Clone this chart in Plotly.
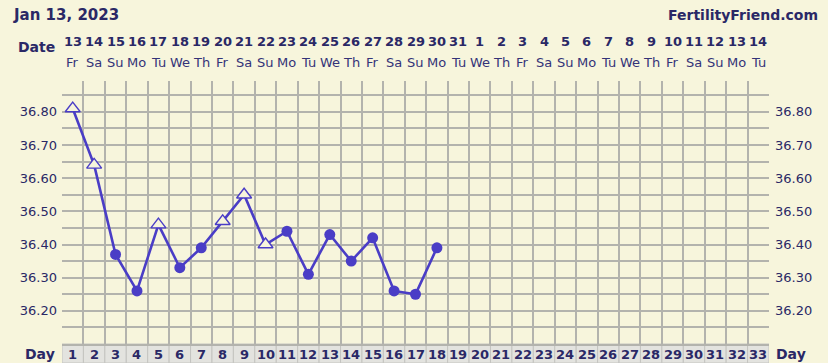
import plotly.graph_objects as go

# ---------------- data ----------------
title_text = "Jan 13, 2023"
site_text = "FertilityFriend.com"

day_numbers = list(range(1, 34))
date_numbers = ["13", "14", "15", "16", "17", "18", "19", "20", "21", "22", "23",
                "24", "25", "26", "27", "28", "29", "30", "31", "1", "2", "3",
                "4", "5", "6", "7", "8", "9", "10", "11", "12", "13", "14"]
weekdays = ["Fr", "Sa", "Su", "Mo", "Tu", "We", "Th", "Fr", "Sa", "Su", "Mo",
            "Tu", "We", "Th", "Fr", "Sa", "Su", "Mo", "Tu", "We", "Th", "Fr",
            "Sa", "Su", "Mo", "Tu", "We", "Th", "Fr", "Sa", "Su", "Mo", "Tu"]

temp_days = [1, 2, 3, 4, 5, 6, 7, 8, 9, 10, 11, 12, 13, 14, 15, 16, 17, 18]
temps = [36.81, 36.64, 36.37, 36.26, 36.46, 36.33, 36.39, 36.47, 36.55, 36.40,
         36.44, 36.31, 36.43, 36.35, 36.42, 36.26, 36.25, 36.39]
marker_kind = ["tri", "tri", "dot", "dot", "tri", "dot", "dot", "tri", "tri", "tri",
               "dot", "dot", "dot", "dot", "dot", "dot", "dot", "dot"]

# horizontal grid every 0.05, labels every 0.10
temp_grid_values = [36.15, 36.20, 36.25, 36.30, 36.35, 36.40, 36.45, 36.50,
                    36.55, 36.60, 36.65, 36.70, 36.75, 36.80, 36.85]
temp_grid_labels = ["", "36.20", "", "36.30", "", "36.40", "", "36.50",
                    "", "36.60", "", "36.70", "", "36.80", ""]

# vertical grid at the day-column borders
column_borders = [d - 0.5 for d in day_numbers] + [day_numbers[-1] + 0.5]

# ---------------- style ----------------
BG = "#f7f5dc"
GRID = "#b3b3ad"
NAVY = "#2a2866"
WEEK = "#343378"
LINE = "#4a3dc6"
FONT = "DejaVu Sans, Verdana, sans-serif"

W, H = 828, 363
ML, MR, MT, MB = 62, 59, 81, 19
PW, PH = W - ML - MR, H - MT - MB


def py(pix):
    """pixel row -> paper y"""
    return (H - MB - pix) / PH


def px(pix):
    return (pix - ML) / PW


fig = go.Figure()

fig.add_trace(go.Scatter(x=temp_days, y=temps, mode="lines",
                         line=dict(color=LINE, width=2.6),
                         hoverinfo="skip", showlegend=False))
dx = [d for d, k in zip(temp_days, marker_kind) if k == "dot"]
dy = [t for t, k in zip(temps, marker_kind) if k == "dot"]
tx = [d for d, k in zip(temp_days, marker_kind) if k == "tri"]
ty = [t for t, k in zip(temps, marker_kind) if k == "tri"]
fig.add_trace(go.Scatter(x=dx, y=dy, mode="markers",
                         marker=dict(symbol="circle", size=11, color=LINE,
                                     line=dict(width=0)),
                         showlegend=False))
fig.add_trace(go.Scatter(x=tx, y=ty, mode="markers",
                         marker=dict(symbol="triangle-up", size=13, color=BG,
                                     line=dict(width=1.4, color=LINE)),
                         showlegend=False))
fig.add_trace(go.Scatter(x=[None], y=[None], yaxis="y2", showlegend=False,
                         hoverinfo="skip"))

# day row cells
for d in day_numbers:
    fig.add_shape(type="rect", xref="x", yref="paper",
                  x0=d - 0.5, x1=d + 0.5, y0=py(H), y1=0,
                  fillcolor="#e3e3df", line=dict(color="#c4c4c0", width=1),
                  layer="below")

ann = []
for d, num in zip(day_numbers, day_numbers):
    ann.append(dict(x=d, y=py(354), xref="x", yref="paper", text=f"<b>{num}</b>",
                    showarrow=False, font=dict(size=13, color=NAVY, family=FONT),
                    xanchor="center", yanchor="middle"))
for d, dn, wd in zip(day_numbers, date_numbers, weekdays):
    ann.append(dict(x=d, y=py(41), xref="x", yref="paper", text=f"<b>{dn}</b>",
                    showarrow=False, font=dict(size=13, color=NAVY, family=FONT),
                    xanchor="center", yanchor="middle"))
    ann.append(dict(x=d, y=py(62.5), xref="x", yref="paper", text=wd,
                    showarrow=False, font=dict(size=13, color=WEEK, family=FONT),
                    xanchor="center", yanchor="middle"))

ann += [
    dict(x=px(11), y=py(15), xref="paper", yref="paper", text=f"<b>{title_text}</b>",
         showarrow=False, font=dict(size=15, color=NAVY, family=FONT),
         xanchor="left", yanchor="middle"),
    dict(x=px(820), y=py(15), xref="paper", yref="paper", text=f"<b>{site_text}</b>",
         showarrow=False, font=dict(size=14, color=NAVY, family=FONT),
         xanchor="right", yanchor="middle"),
    dict(x=px(57), y=py(47), xref="paper", yref="paper", text="<b>Date</b>",
         showarrow=False, font=dict(size=14, color=NAVY, family=FONT),
         xanchor="right", yanchor="middle"),
    dict(x=px(57), y=py(354), xref="paper", yref="paper", text="<b>Day</b>",
         showarrow=False, font=dict(size=14, color=NAVY, family=FONT),
         xanchor="right", yanchor="middle"),
    dict(x=px(774), y=py(354), xref="paper", yref="paper", text="<b>Day</b>",
         showarrow=False, font=dict(size=14, color=NAVY, family=FONT),
         xanchor="left", yanchor="middle"),
]

yrange = [36.10, 36.893]
fig.update_layout(
    width=W, height=H, autosize=False,
    margin=dict(l=ML, r=MR, t=MT, b=MB, pad=0),
    paper_bgcolor=BG, plot_bgcolor=BG,
    font=dict(family=FONT, color=NAVY, size=13),
    annotations=ann,
    xaxis=dict(range=[0.5, 33.5], tickvals=column_borders, showticklabels=False,
               showgrid=True, gridcolor=GRID, gridwidth=2, zeroline=False,
               ticks="", showline=True, linecolor=GRID, linewidth=2),
    yaxis=dict(range=yrange, tickvals=temp_grid_values, ticktext=temp_grid_labels,
               showgrid=True, gridcolor=GRID, gridwidth=2, zeroline=False,
               ticks="", ticklabelstandoff=4,
               tickfont=dict(size=13, color=NAVY, family=FONT)),
    yaxis2=dict(range=yrange, overlaying="y", side="right",
                tickvals=temp_grid_values, ticktext=temp_grid_labels,
                showgrid=False, zeroline=False, ticks="", ticklabelstandoff=5,
                tickfont=dict(size=13, color=NAVY, family=FONT)),
)

fig.write_html("out.html")
